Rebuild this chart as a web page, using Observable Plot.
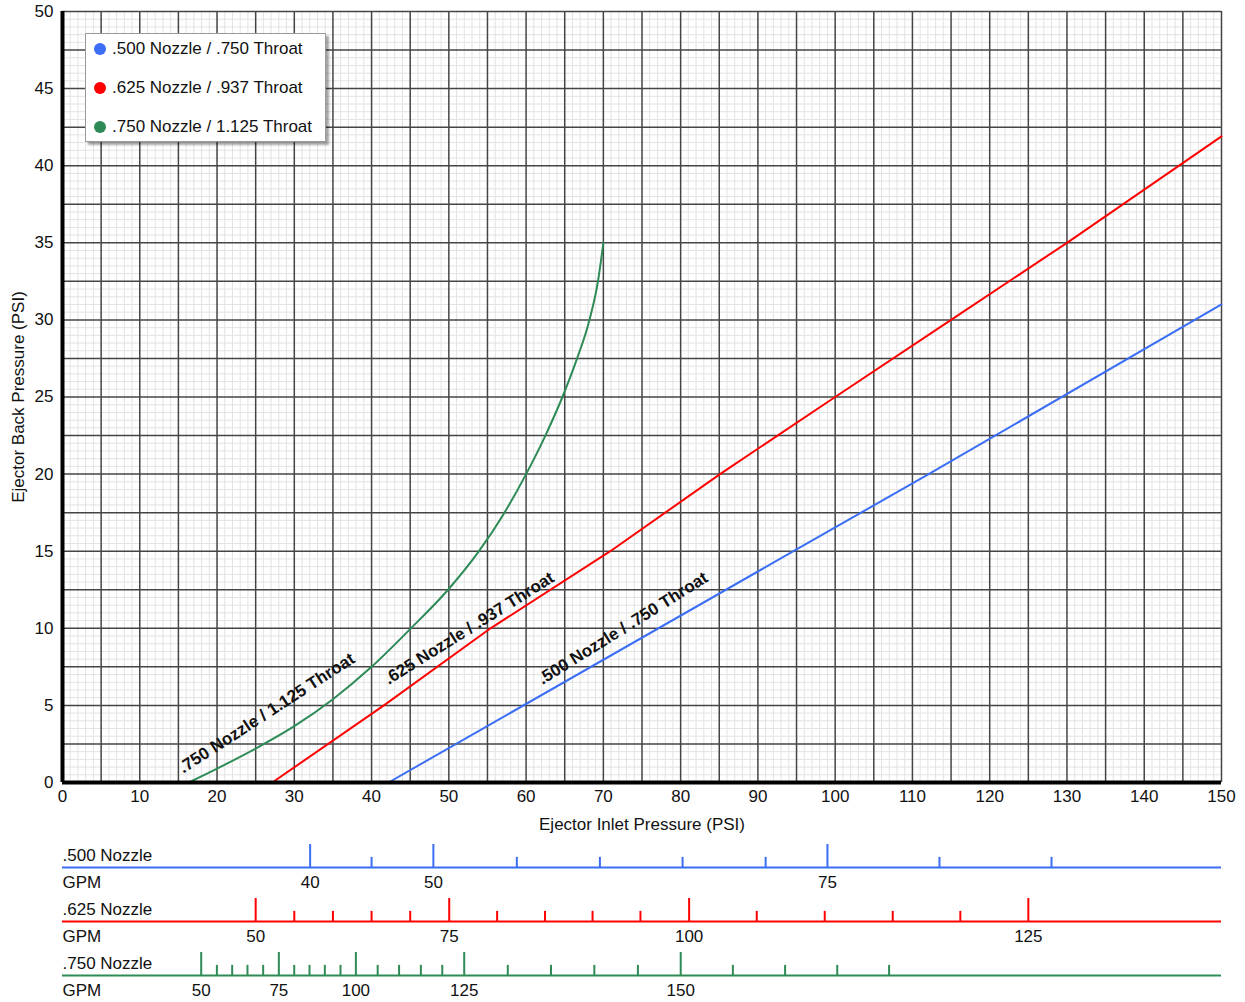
<!DOCTYPE html>
<html><head><meta charset="utf-8">
<script src="https://cdn.jsdelivr.net/npm/d3@7"></script>
<script src="https://cdn.jsdelivr.net/npm/@observablehq/plot@0.6"></script>
<style>
body{margin:0;background:#fff;font-family:Arial,"Liberation Sans",sans-serif;}
#wrap{position:relative;width:1245px;}
#legend{position:absolute;left:85px;top:33px;width:241px;height:109px;background:#fff;border:1px solid #9a9a9a;box-shadow:3px 3px 2px rgba(0,0,0,0.35);box-sizing:border-box;}
.row{position:absolute;left:8px;font-size:17px;color:#111;display:flex;align-items:center;height:20px;white-space:nowrap;}
.dot{width:12px;height:12px;border-radius:50%;margin-right:6px;}
svg{display:block}
</style></head>
<body><div id="wrap"></div>
<script>
// ---- data ----
const series = [".500 Nozzle / .750 Throat", ".625 Nozzle / .937 Throat", ".750 Nozzle / 1.125 Throat"];
const colors = ["#3b6ef5", "#ff0000", "#2e8b57"];

const blueX = [42.2, 94.6, 112.1, 150];
const blueY = [0, 15, 20, 31];
const redX = [27.15, 41.6, 55.4, 70.9, 85.1, 100, 115, 130, 150];
const redY = [0, 5, 10, 15, 20, 25, 30, 35, 41.9];
const greenX = [16.35, 20, 25, 30, 35, 40, 45, 49.9, 53.9, 57.2, 60.0, 62.5, 64.7, 66.6, 68.2, 69.3, 70.0];
const greenY = [0, 0.9, 2.2, 3.65, 5.4, 7.5, 9.95, 12.5, 15, 17.5, 20, 22.5, 25, 27.5, 30, 32.5, 35];

// in-chart line labels (x, y at baseline centre)
const labelX = [72.9, 53.0, 26.8];
const labelY = [9.7, 9.7, 4.2];

const xTicks = [0, 10, 20, 30, 40, 50, 60, 70, 80, 90, 100, 110, 120, 130, 140, 150];
const yTicks = [0, 5, 10, 15, 20, 25, 30, 35, 40, 45, 50];

// GPM scales: GPM value and corresponding inlet pressure
const blueGpm = [40, 45, 50, 55, 60, 65, 70, 75, 80, 85];
const bluePsi = [32.05, 40.0, 48.0, 58.8, 69.55, 80.25, 91.0, 99.0, 113.5, 128.0];
const blueMajor = [40, 50, 75];
const redGpm = [50, 55, 60, 65, 70, 75, 80, 85, 90, 95, 100, 105, 110, 115, 120, 125];
const redPsi = [25.0, 30.0, 35.0, 40.0, 45.0, 50.05, 56.25, 62.45, 68.6, 74.8, 81.1, 89.85, 98.65, 107.45, 116.2, 125.0];
const redMajor = [50, 75, 100, 125];
const greenGpm = [50, 55, 60, 65, 70, 75, 80, 85, 90, 95, 100, 105, 110, 115, 120, 125, 130, 135, 140, 145, 150, 155, 160, 165, 170];
const greenPsi = [17.95, 19.98, 21.96, 23.94, 25.97, 28.0, 29.99, 31.97, 33.95, 35.98, 37.97, 40.79, 43.56, 46.38, 49.15, 51.99, 57.63, 63.22, 68.83, 74.47, 80.01, 86.76, 93.52, 100.27, 106.98];
const greenMajor = [50, 75, 100, 125, 150];

// ---- build ----
const W = 1245;
const FS = 17;
const font = "Arial, 'Liberation Sans', sans-serif";
const xMinor = d3.range(0, 151, 1).filter(d => d % 5 !== 0);
const xMajor = d3.range(0, 151, 5);
const yMinor = d3.range(0, 50.001, 0.5).filter(d => Math.abs(d / 2.5 - Math.round(d / 2.5)) > 1e-6);
const yMajor = d3.range(0, 50.001, 2.5);

const zip = (xs, ys) => xs.map((x, i) => ({x, y: ys[i]}));
const lines = [zip(blueX, blueY), zip(redX, redY), zip(greenX, greenY)];
const lineLabels = series.map((s, i) => ({text: s, x: labelX[i], y: labelY[i]}));

const main = Plot.plot({
  width: W, height: 840,
  marginLeft: 62, marginRight: 24, marginTop: 11, marginBottom: 58,
  style: {fontFamily: font, fontSize: FS + "px", color: "#111", background: "#fff"},
  x: {domain: [0, 150]},
  y: {domain: [0, 50]},
  marks: [
    Plot.gridX(xMinor, {stroke: "#e3e3e3", strokeOpacity: 1, strokeWidth: 1}),
    Plot.gridY(yMinor, {stroke: "#e3e3e3", strokeOpacity: 1, strokeWidth: 1}),
    Plot.gridX(xMajor, {stroke: "#454545", strokeOpacity: 1, strokeWidth: 1.5}),
    Plot.gridY(yMajor, {stroke: "#454545", strokeOpacity: 1, strokeWidth: 1.5}),
    Plot.axisX(xTicks, {tickSize: 0, tickPadding: 7, fontSize: FS, label: "Ejector Inlet Pressure (PSI)", labelAnchor: "center", labelArrow: "none", labelOffset: 47}),
    Plot.axisY(yTicks, {tickSize: 0, tickPadding: 9, fontSize: FS, label: "Ejector Back Pressure (PSI)", labelAnchor: "center", labelArrow: "none", labelOffset: 51}),
    Plot.line(lines[0], {x: "x", y: "y", stroke: colors[0], strokeWidth: 2}),
    Plot.line(lines[1], {x: "x", y: "y", stroke: colors[1], strokeWidth: 2}),
    Plot.line(lines[2], {x: "x", y: "y", stroke: colors[2], strokeWidth: 2, curve: "monotone-x"}),
    Plot.text(lineLabels.slice(0, 2), {x: "x", y: "y", text: "text", rotate: -32, lineAnchor: "bottom", fontWeight: "bold", fontSize: FS, fill: "#111"}),
    Plot.text(lineLabels.slice(2), {x: "x", y: "y", text: "text", rotate: -33, lineAnchor: "bottom", fontWeight: "bold", fontSize: FS, fill: "#111"}),
    Plot.ruleX([0], {stroke: "#000", strokeWidth: 4}),
    Plot.ruleY([0], {stroke: "#000", strokeWidth: 4})
  ]
});

function strip(name, color, gpm, psi, major) {
  const ticks = gpm.map((g, i) => ({g, p: psi[i], major: major.includes(g)}));
  return Plot.plot({
    width: W, height: 54,
    marginLeft: 62, marginRight: 24, marginTop: 0, marginBottom: 0,
    style: {fontFamily: font, fontSize: FS + "px", color: "#111", background: "#fff"},
    x: {domain: [0, 150], axis: null},
    y: {domain: [0, 1], range: [27, 4], axis: null},
    marks: [
      Plot.ruleY([0], {stroke: color, strokeWidth: 2}),
      Plot.ruleX(ticks.filter(d => !d.major), {x: "p", y1: 0, y2: 0.44, stroke: color, strokeWidth: 2}),
      Plot.ruleX(ticks.filter(d => d.major), {x: "p", y1: 0, y2: 1, stroke: color, strokeWidth: 2}),
      Plot.text(ticks.filter(d => d.major), {x: "p", y: () => 0, text: d => String(d.g), dy: 15, fontSize: FS, fill: "#111"}),
      Plot.text([name], {x: () => 0, y: () => 0, text: d => d, textAnchor: "start", dy: -12, fontSize: FS, fill: "#111"}),
      Plot.text(["GPM"], {x: () => 0, y: () => 0, text: d => d, textAnchor: "start", dy: 15, fontSize: FS, fill: "#111"})
    ]
  });
}

const wrap = document.getElementById("wrap");
wrap.appendChild(main);
wrap.appendChild(strip(".500 Nozzle", colors[0], blueGpm, bluePsi, blueMajor));
wrap.appendChild(strip(".625 Nozzle", colors[1], redGpm, redPsi, redMajor));
wrap.appendChild(strip(".750 Nozzle", colors[2], greenGpm, greenPsi, greenMajor));

// legend
const legend = document.createElement("div");
legend.id = "legend";
series.forEach((s, i) => {
  const row = document.createElement("div");
  row.className = "row";
  row.style.top = (5 + i * 39) + "px";
  const dot = document.createElement("span");
  dot.className = "dot";
  dot.style.background = colors[i];
  const t = document.createElement("span");
  t.textContent = s;
  row.appendChild(dot); row.appendChild(t);
  legend.appendChild(row);
});
wrap.appendChild(legend);
</script></body></html>
